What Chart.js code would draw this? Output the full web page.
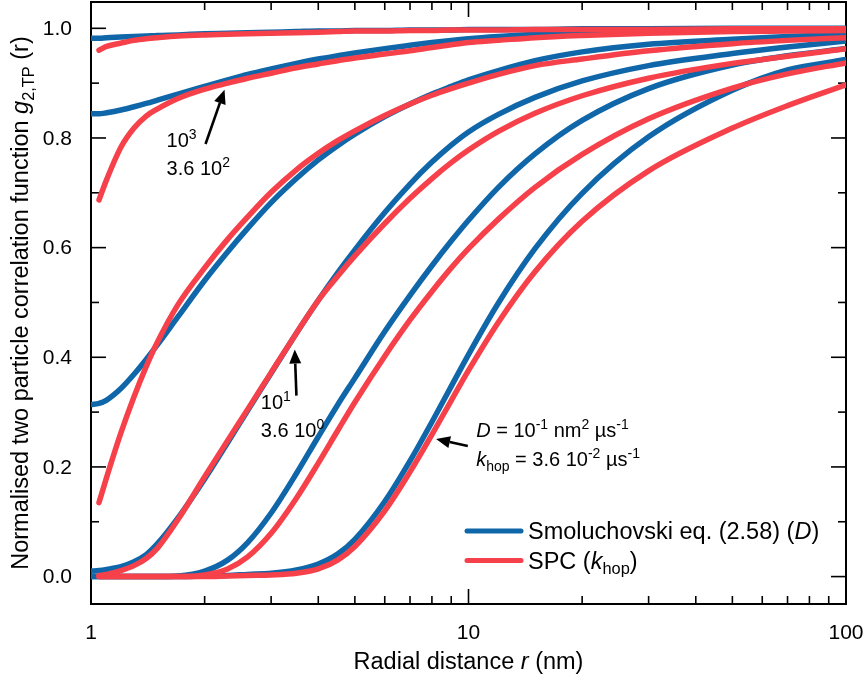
<!DOCTYPE html>
<html>
<head>
<meta charset="utf-8">
<script src="https://cdn.jsdelivr.net/npm/chart.js@4.4.1/dist/chart.umd.min.js"></script>
<style>
    html, body { margin: 0; padding: 0; background: #fff; }
    canvas { display: block; }
</style>
</head>
<body>
<canvas id="g2" width="866" height="687"></canvas>
<script>
// radial distance r (nm) at which every curve is sampled
const radius = [1, 1.05, 1.1, 1.2, 1.3, 1.4, 1.5, 1.7, 2, 2.3, 2.6, 3, 3.5, 4, 4.5, 5, 6, 7, 8, 9, 10, 12, 15, 20, 30, 50, 70, 100];

// Smoluchovski eq. (2.58), one array per D (suffix = log10 D)
const smol_D4  = [0.982, 0.982, 0.983, 0.984, 0.985, 0.986, 0.987, 0.988, 0.990, 0.991, 0.992, 0.993, 0.994, 0.995, 0.995, 0.996, 0.996, 0.997, 0.997, 0.997, 0.998, 0.998, 0.998, 0.999, 0.999, 1.000, 1.000, 1.000];
const smol_D3  = [0.844, 0.844, 0.846, 0.851, 0.857, 0.863, 0.869, 0.880, 0.894, 0.906, 0.916, 0.926, 0.936, 0.944, 0.950, 0.955, 0.963, 0.969, 0.974, 0.978, 0.981, 0.985, 0.989, 0.993, 0.996, 0.998, 0.999, 0.999];
const smol_D2  = [0.314, 0.316, 0.322, 0.343, 0.369, 0.396, 0.423, 0.474, 0.540, 0.592, 0.635, 0.682, 0.726, 0.760, 0.786, 0.807, 0.839, 0.862, 0.880, 0.894, 0.906, 0.923, 0.941, 0.957, 0.971, 0.980, 0.985, 0.989];
const smol_D1  = [0.010, 0.011, 0.013, 0.018, 0.027, 0.040, 0.060, 0.107, 0.178, 0.244, 0.303, 0.371, 0.444, 0.504, 0.554, 0.596, 0.664, 0.716, 0.756, 0.787, 0.811, 0.843, 0.874, 0.904, 0.932, 0.954, 0.966, 0.977];
const smol_D0  = [0, 0, 0, 0, 0, 0, 0, 0.001, 0.010, 0.030, 0.062, 0.116, 0.188, 0.255, 0.313, 0.362, 0.447, 0.513, 0.567, 0.612, 0.650, 0.710, 0.771, 0.832, 0.890, 0.933, 0.950, 0.963];
const smol_Dm1 = [0, 0, 0, 0, 0, 0, 0, 0, 0.001, 0.002, 0.004, 0.006, 0.012, 0.023, 0.041, 0.068, 0.137, 0.211, 0.282, 0.347, 0.405, 0.499, 0.598, 0.699, 0.802, 0.887, 0.924, 0.943];

// SPC with k_hop = 0.36 D, no value at r = 1
const spc_D4  = [null, 0.960, 0.967, 0.973, 0.978, 0.981, 0.983, 0.986, 0.988, 0.989, 0.990, 0.991, 0.992, 0.993, 0.994, 0.995, 0.995, 0.996, 0.996, 0.997, 0.997, 0.997, 0.998, 0.998, 0.998, 0.999, 0.999, 0.999];
const spc_D3  = [null, 0.687, 0.724, 0.783, 0.818, 0.840, 0.853, 0.872, 0.889, 0.900, 0.909, 0.918, 0.928, 0.935, 0.941, 0.946, 0.953, 0.959, 0.965, 0.970, 0.974, 0.978, 0.983, 0.987, 0.991, 0.994, 0.995, 0.996];
const spc_D2  = [null, 0.135, 0.181, 0.262, 0.328, 0.383, 0.428, 0.496, 0.563, 0.615, 0.656, 0.701, 0.742, 0.772, 0.795, 0.813, 0.841, 0.862, 0.878, 0.890, 0.900, 0.916, 0.932, 0.944, 0.959, 0.972, 0.978, 0.983];
const spc_D1  = [null, 0.002, 0.004, 0.011, 0.020, 0.033, 0.052, 0.104, 0.182, 0.248, 0.305, 0.372, 0.444, 0.504, 0.548, 0.585, 0.644, 0.690, 0.726, 0.755, 0.778, 0.812, 0.845, 0.877, 0.909, 0.936, 0.949, 0.963];
const spc_D0  = [null, 0, 0, 0, 0, 0, 0, 0, 0.003, 0.014, 0.036, 0.079, 0.143, 0.207, 0.266, 0.318, 0.402, 0.468, 0.520, 0.563, 0.598, 0.652, 0.710, 0.770, 0.835, 0.891, 0.917, 0.937];
const spc_Dm1 = [null, 0, 0, 0, 0, 0, 0, 0, 0, 0.001, 0.002, 0.003, 0.006, 0.014, 0.030, 0.055, 0.120, 0.191, 0.259, 0.321, 0.376, 0.464, 0.556, 0.648, 0.740, 0.818, 0.859, 0.897];

// axis ticks
const x_major = [1, 10, 100];
const x_minor = [2, 3, 4, 5, 6, 7, 8, 9, 20, 30, 40, 50, 60, 70, 80, 90];
const y_major = [0, 0.2, 0.4, 0.6, 0.8, 1.0];
const y_minor = [0.1, 0.3, 0.5, 0.7, 0.9];

const BLUE = "#0f66a9";
const RED = "#f6404a";
const FONT = "'Liberation Sans', Arial, Helvetica, sans-serif";

// labels with arrows, anchored in data units (r, g)
const notes = [
    { lines: ["10^{3}", "3.6 10^{2}"], at: [1.586, 0.783], step: 0.051, arrow: [[2.011, 0.789], [2.258, 0.888]] },
    { lines: ["10^{1}", "3.6 10^{0}"], at: [2.817, 0.306], step: 0.052, arrow: [[3.501, 0.330], [3.465, 0.414]] },
    { lines: ["*D* = 10^{-1} nm^{2} µs^{-1}", "*k*_{hop} = 3.6 10^{-2} µs^{-1}"], at: [10.48, 0.254], step: 0.052, arrow: [[9.957, 0.238], [8.204, 0.251]] }
];

function make_series(values) {
    const pts = [];
    values.forEach((v, i) => { if (v !== null) pts.push({ x: radius[i], y: v }); });
    return pts;
}

// tiny markup: *italic*, ^{sup}, _{sub}
function parse_rich(str) {
    const parts = [];
    let i = 0, buf = "", italic = false;
    const flush = () => { if (buf) parts.push({ t: buf, it: italic }); buf = ""; };
    while (i < str.length) {
        const c = str[i];
        if (c === "*") { flush(); italic = !italic; i++; }
        else if ((c === "^" || c === "_") && str[i + 1] === "{") {
            flush();
            const end = str.indexOf("}", i);
            parts.push({ t: str.slice(i + 2, end), it: italic, sup: c === "^", sub: c === "_" });
            i = end + 1;
        }
        else { buf += c; i++; }
    }
    flush();
    return parts;
}

function draw_rich(ctx, str, x, y, size, align) {
    const parts = parse_rich(str);
    const font_of = p => `${p.it ? "italic " : ""}${(p.sup || p.sub) ? (size * 0.7).toFixed(1) : size}px ${FONT}`;
    let w = 0;
    parts.forEach(p => { ctx.font = font_of(p); w += ctx.measureText(p.t).width; });
    let cx = align === "center" ? x - w / 2 : x;
    ctx.textAlign = "left";
    ctx.textBaseline = "alphabetic";
    parts.forEach(p => {
        ctx.font = font_of(p);
        const dy = p.sup ? -size * 0.4 : (p.sub ? size * 0.24 : 0);
        ctx.fillText(p.t, cx, y + dy);
        cx += ctx.measureText(p.t).width;
    });
}

function draw_arrow(ctx, x0, y0, x1, y1) {
    const ang = Math.atan2(y1 - y0, x1 - x0);
    const len = 14, half = 6;
    const bx = x1 - len * Math.cos(ang), by = y1 - len * Math.sin(ang);
    ctx.lineWidth = 2.6;
    ctx.beginPath();
    ctx.moveTo(x0, y0);
    ctx.lineTo(bx, by);
    ctx.stroke();
    ctx.beginPath();
    ctx.moveTo(x1, y1);
    ctx.lineTo(bx + half * Math.sin(ang), by - half * Math.cos(ang));
    ctx.lineTo(bx - half * Math.sin(ang), by + half * Math.cos(ang));
    ctx.closePath();
    ctx.fill();
}

// box, inward ticks, tick labels and axis titles
const axes_plugin = {
    id: "axes_box",
    beforeDatasetsDraw(chart) {
        const { ctx, chartArea: a, scales: { x, y } } = chart;
        ctx.save();
        ctx.strokeStyle = "#000";
        ctx.fillStyle = "#000";
        const seg = (x0, y0, x1, y1) => { ctx.beginPath(); ctx.moveTo(x0, y0); ctx.lineTo(x1, y1); ctx.stroke(); };

        ctx.lineWidth = 1.6;
        x_major.concat(x_minor).forEach(v => {
            const px = x.getPixelForValue(v);
            const len = x_major.includes(v) ? 15 : 8;
            seg(px, a.bottom, px, a.bottom - len);
            seg(px, a.top, px, a.top + len);
        });
        y_major.concat(y_minor).forEach(v => {
            const py = y.getPixelForValue(v);
            const len = y_major.includes(v) ? 15 : 8;
            seg(a.left, py, a.left + len, py);
            seg(a.right, py, a.right - len, py);
        });

        ctx.lineWidth = 2;
        ctx.strokeRect(a.left, a.top, a.right - a.left, a.bottom - a.top);

        ctx.font = `21px ${FONT}`;
        ctx.textAlign = "right";
        ctx.textBaseline = "middle";
        y_major.forEach(v => ctx.fillText(v.toFixed(1), a.left - 19, y.getPixelForValue(v) + 1));
        ctx.textAlign = "center";
        ctx.textBaseline = "alphabetic";
        x_major.forEach(v => ctx.fillText(String(v), x.getPixelForValue(v), a.bottom + 35));

        draw_rich(ctx, "Radial distance *r* (nm)", (a.left + a.right) / 2, a.bottom + 65, 23.5, "center");
        ctx.translate(28, (a.top + a.bottom) / 2);
        ctx.rotate(-Math.PI / 2);
        draw_rich(ctx, "Normalised two particle correlation function *g*_{2,TP} (r)", 0, 0, 23.5, "center");
        ctx.restore();
    },
    afterDatasetsDraw(chart) {
        const { ctx, chartArea: a, scales: { x, y } } = chart;
        ctx.save();
        ctx.strokeStyle = "#000";
        ctx.fillStyle = "#000";

        notes.forEach(n => {
            const px = x.getPixelForValue(n.at[0]);
            n.lines.forEach((line, k) => {
                draw_rich(ctx, line, px, y.getPixelForValue(n.at[1] - k * n.step), 20, "left");
            });
            const [p0, p1] = n.arrow;
            draw_arrow(ctx, x.getPixelForValue(p0[0]), y.getPixelForValue(p0[1]),
                            x.getPixelForValue(p1[0]), y.getPixelForValue(p1[1]));
        });

        // legend, bottom right of the plot
        const entries = [
            { color: BLUE, text: "Smoluchovski eq. (2.58) (*D*)" },
            { color: RED, text: "SPC (*k*_{hop})" }
        ];
        const lx = a.right - 379, ly = a.bottom - 73;
        ctx.lineCap = "round";
        entries.forEach((e, k) => {
            const yy = ly + k * 29.5;
            ctx.strokeStyle = e.color;
            ctx.lineWidth = 5;
            ctx.beginPath();
            ctx.moveTo(lx, yy);
            ctx.lineTo(lx + 54, yy);
            ctx.stroke();
            ctx.fillStyle = "#000";
            draw_rich(ctx, e.text, lx + 61, yy + 8, 23.5, "left");
        });
        ctx.restore();
    }
};

const smol_sets = [smol_D4, smol_D3, smol_D2, smol_D1, smol_D0, smol_Dm1];
const spc_sets = [spc_D4, spc_D3, spc_D2, spc_D1, spc_D0, spc_Dm1];

const datasets = [];
smol_sets.forEach(v => datasets.push({
    label: "Smoluchovski eq. (2.58) (D)", data: make_series(v),
    borderColor: BLUE, order: 1
}));
spc_sets.forEach(v => datasets.push({
    label: "SPC (k_hop)", data: make_series(v),
    borderColor: RED, order: 0
}));

new Chart(document.getElementById("g2").getContext("2d"), {
    type: "line",
    data: { datasets: datasets },
    options: {
        responsive: false,
        animation: false,
        devicePixelRatio: 1,
        layout: { padding: { left: 91, right: 20, top: 2, bottom: 83 } },
        elements: {
            line: { borderWidth: 5.5, cubicInterpolationMode: "monotone", borderCapStyle: "round", borderJoinStyle: "round", fill: false },
            point: { radius: 0, hitRadius: 0 }
        },
        scales: {
            x: { type: "logarithmic", min: 1, max: 100, display: false },
            y: { type: "linear", min: -0.05, max: 1.048, display: false }
        },
        plugins: {
            legend: { display: false },
            tooltip: { enabled: false }
        }
    },
    plugins: [axes_plugin]
});
</script>
</body>
</html>
